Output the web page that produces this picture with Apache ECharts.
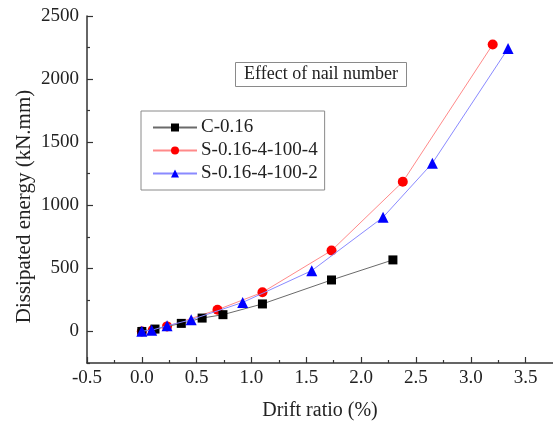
<!DOCTYPE html>
<html>
<head>
<meta charset="utf-8">
<script src="https://cdn.jsdelivr.net/npm/echarts@6/dist/echarts.min.js"></script>
<style>
  html, body { margin: 0; padding: 0; background: #fff; }
  #chart { width: 553px; height: 428px; }
</style>
</head>
<body>
<div id="chart"></div>
<script>
// Dissipated energy vs. drift ratio for three specimens
const seriesNames = ['C-0.16', 'S-0.16-4-100-4', 'S-0.16-4-100-2'];

const driftC = [0, 0.12, 0.36, 0.55, 0.74, 1.10, 1.73, 2.29];
const energyC = [0, 19, 64, 106, 133, 218, 408, 567];

const driftS4 = [0, 0.10, 0.23, 0.69, 1.10, 1.73, 2.38, 3.20];
const energyS4 = [0, 12, 40, 172, 310, 641, 1186, 2274];

const driftS2 = [0, 0.09, 0.23, 0.45, 0.92, 1.55, 2.20, 2.65, 3.34];
const energyS2 = [2, 10, 45, 93, 230, 482, 905, 1334, 2242];

// Axis ticks
const xMajorTicks = [-0.5, 0, 0.5, 1.0, 1.5, 2.0, 2.5, 3.0, 3.5];
const xMinorTicks = [-0.25, 0.25, 0.75, 1.25, 1.75, 2.25, 2.75, 3.25];
const yMajorTicks = [0, 500, 1000, 1500, 2000, 2500];
const yMinorTicks = [-250, 250, 750, 1250, 1750, 2250];

const pairs = (xs, ys) => xs.map((x, i) => [x, ys[i]]);

const FONT = '"Liberation Serif", "Times New Roman", serif';
const AXIS_COLOR = '#333';
const TEXT_COLOR = '#222';

const xRange = { min: -0.5, max: 3.75 };
const yRange = { min: -250, max: 2500 };

// secondary axes only carry the short ticks; their own line is invisible
const hiddenLine = { show: true, onZero: false, lineStyle: { color: AXIS_COLOR, width: 1, opacity: 0 } };

const chart = echarts.init(document.getElementById('chart'), null, { renderer: 'canvas' });

chart.setOption({
  backgroundColor: '#fff',
  animation: false,
  title: {
    text: 'Effect of nail number',
    left: 235,
    top: 62,
    padding: [3, 9, 4, 9],
    borderWidth: 1,
    borderColor: '#8a8a8a',
    textStyle: { fontFamily: FONT, fontSize: 18, fontWeight: 'normal', color: TEXT_COLOR }
  },
  legend: {
    left: 141,
    top: 111,
    orient: 'vertical',
    padding: [7, 7, 7, 11],
    itemGap: 4,
    itemWidth: 44,
    itemHeight: 10,
    borderWidth: 1,
    borderColor: '#8a8a8a',
    data: seriesNames,
    textStyle: { fontFamily: FONT, fontSize: 19, color: TEXT_COLOR, padding: [0, 0, 0, -1] }
  },
  grid: { left: 87, right: 0, top: 16, bottom: 65, containLabel: false },
  xAxis: [
    {
      type: 'value',
      min: xRange.min,
      max: xRange.max,
      interval: 0.5,
      name: 'Drift ratio (%)',
      nameLocation: 'middle',
      nameGap: 38,
      nameMoveOverlap: false,
      nameTextStyle: { fontFamily: FONT, fontSize: 20, color: TEXT_COLOR },
      axisLine: { show: true, onZero: false, lineStyle: { color: AXIS_COLOR, width: 1.5 } },
      axisTick: { show: true, inside: true, length: 6, customValues: xMajorTicks, lineStyle: { color: AXIS_COLOR, width: 1.2 } },
      axisLabel: {
        customValues: xMajorTicks,
        margin: 6,
        fontFamily: FONT, fontSize: 19, color: TEXT_COLOR,
        formatter: v => v.toFixed(1)
      },
      splitLine: { show: false }
    },
    {
      type: 'value',
      min: xRange.min,
      max: xRange.max,
      interval: 0.25,
      position: 'bottom',
      axisLine: hiddenLine,
      axisTick: { show: true, inside: true, length: 3, customValues: xMinorTicks, lineStyle: { color: AXIS_COLOR, width: 1.2 } },
      axisLabel: { show: false },
      splitLine: { show: false }
    }
  ],
  yAxis: [
    {
      type: 'value',
      min: yRange.min,
      max: yRange.max,
      interval: 250,
      name: 'Dissipated energy (kN.mm)',
      nameLocation: 'middle',
      nameGap: 52,
      nameMoveOverlap: false,
      nameTextStyle: { fontFamily: FONT, fontSize: 21, color: TEXT_COLOR, padding: [0, 34, 0, 0] },
      axisLine: { show: true, onZero: false, lineStyle: { color: AXIS_COLOR, width: 1.5 } },
      axisTick: { show: true, inside: true, length: 6, customValues: yMajorTicks, lineStyle: { color: AXIS_COLOR, width: 1.2 } },
      axisLabel: {
        customValues: yMajorTicks,
        margin: 8,
        fontFamily: FONT, fontSize: 19, color: TEXT_COLOR,
        formatter: v => String(v)
      },
      splitLine: { show: false }
    },
    {
      type: 'value',
      min: yRange.min,
      max: yRange.max,
      interval: 250,
      position: 'left',
      axisLine: hiddenLine,
      axisTick: { show: true, inside: true, length: 3, customValues: yMinorTicks, lineStyle: { color: AXIS_COLOR, width: 1.2 } },
      axisLabel: { show: false },
      splitLine: { show: false }
    }
  ],
  series: [
    {
      name: seriesNames[0],
      type: 'line',
      data: pairs(driftC, energyC),
      symbol: 'rect',
      symbolSize: 9,
      z: 3,
      itemStyle: { color: '#000' },
      lineStyle: { color: '#6a6a6a', width: 1 }
    },
    {
      name: seriesNames[1],
      type: 'line',
      data: pairs(driftS4, energyS4),
      symbol: 'circle',
      symbolSize: 10,
      z: 2,
      itemStyle: { color: '#ff0000' },
      lineStyle: { color: '#ff8a8a', width: 1 }
    },
    {
      name: seriesNames[2],
      type: 'line',
      data: pairs(driftS2, energyS2),
      symbol: 'triangle',
      symbolSize: 11,
      z: 4,
      itemStyle: { color: '#0000ff' },
      lineStyle: { color: '#8a8aff', width: 1 }
    }
  ]
});
</script>
</body>
</html>
